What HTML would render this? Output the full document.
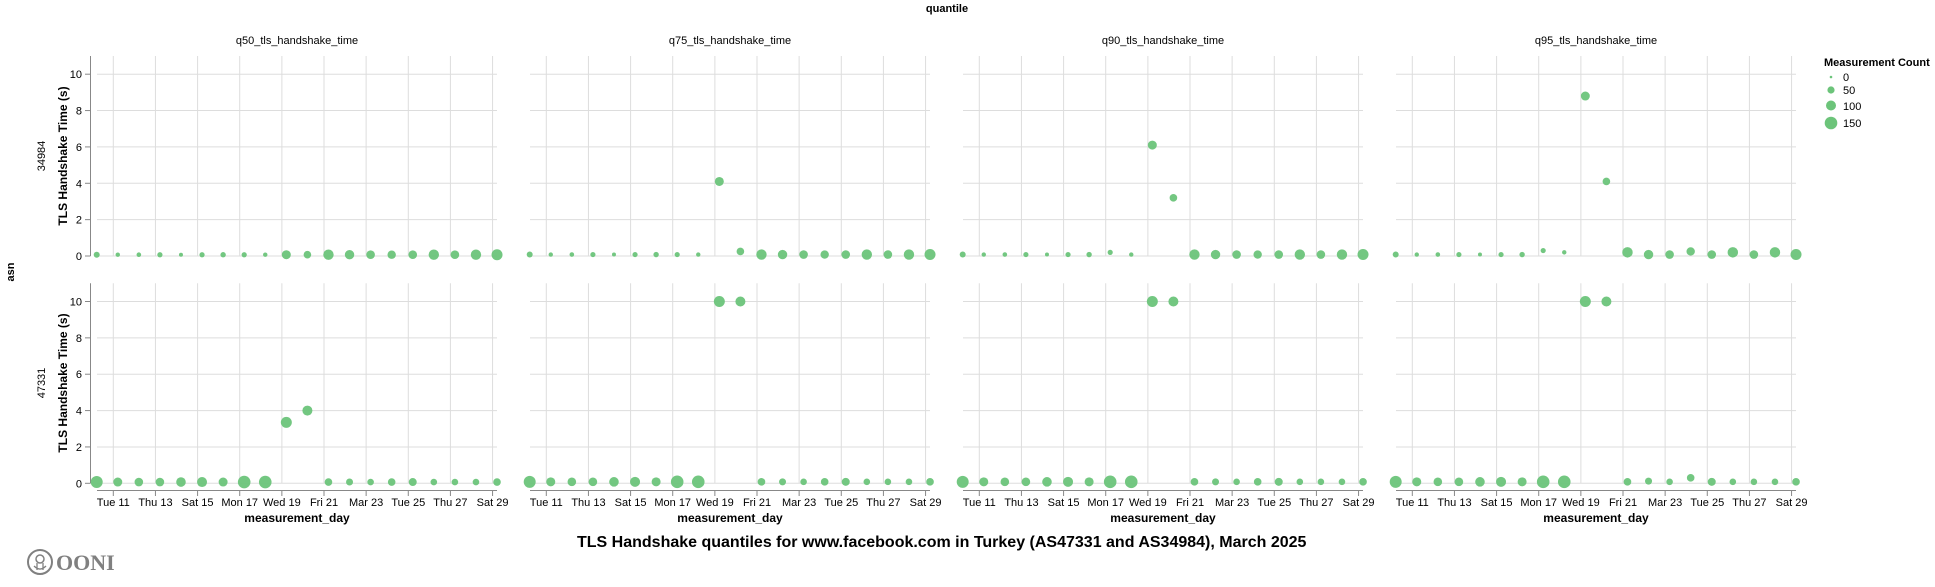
<!DOCTYPE html>
<html><head><meta charset="utf-8"><style>
html,body{margin:0;padding:0;background:#fff;}
svg{display:block;font-family:"Liberation Sans",Arial,sans-serif;}
</style></head><body>
<svg id="c" width="1935" height="587" xmlns="http://www.w3.org/2000/svg">
<text x="947" y="12" font-size="11" font-weight="bold" text-anchor="middle">quantile</text>
<text x="297" y="44" font-size="11" text-anchor="middle">q50_tls_handshake_time</text>
<text x="730" y="44" font-size="11" text-anchor="middle">q75_tls_handshake_time</text>
<text x="1163" y="44" font-size="11" text-anchor="middle">q90_tls_handshake_time</text>
<text x="1596" y="44" font-size="11" text-anchor="middle">q95_tls_handshake_time</text>
<text transform="translate(14,272) rotate(-90)" font-size="11" font-weight="bold" text-anchor="middle">asn</text>
<text transform="translate(45,156) rotate(-90)" font-size="11" text-anchor="middle">34984</text>
<text transform="translate(45,383) rotate(-90)" font-size="11" text-anchor="middle">47331</text>
<text transform="translate(67,156) rotate(-90)" font-size="12" font-weight="bold" text-anchor="middle">TLS Handshake Time (s)</text>
<text transform="translate(67,383) rotate(-90)" font-size="12" font-weight="bold" text-anchor="middle">TLS Handshake Time (s)</text>
<g id="g"></g>
<text x="1824" y="66" font-size="11" font-weight="bold">Measurement Count</text>
<circle cx="1831" cy="77" r="1.3" fill="#6cc47a"/><text x="1843" y="81" font-size="11">0</text>
<circle cx="1831" cy="90" r="3.6" fill="#6cc47a"/><text x="1843" y="94" font-size="11">50</text>
<circle cx="1831" cy="105.5" r="5" fill="#6cc47a"/><text x="1843" y="110" font-size="11">100</text>
<circle cx="1831" cy="123" r="6.3" fill="#6cc47a"/><text x="1843" y="127" font-size="11">150</text>
<text x="577" y="547" font-size="16" font-weight="bold">TLS Handshake quantiles for www.facebook.com in Turkey (AS47331 and AS34984), March 2025</text>
<circle cx="40" cy="562" r="12" fill="none" stroke="#808080" stroke-width="2"/>
<circle cx="40" cy="559" r="4" fill="none" stroke="#808080" stroke-width="1.5"/>
<path d="M34 566 q6 6 12 0 M37 563 v7 M43 563 v7" fill="none" stroke="#808080" stroke-width="1.3"/>
<text x="56" y="570" font-size="22" font-weight="bold" fill="#808080" font-family="Liberation Serif,serif">OONI</text>
</svg>
<script>
(function(){
var g=document.getElementById('g'),s='';
var labels=['Tue 11','Thu 13','Sat 15','Mon 17','Wed 19','Fri 21','Mar 23','Tue 25','Thu 27','Sat 29'];
var rTop=[3,2.2,2.3,2.6,2,2.6,2.7,2.6,2.2,4.5,3.8,5.2,4.7,4.3,4.2,4.3,5.2,4.3,5.2,5.5];
var rBot=[6,4.5,4.3,4.3,4.8,5,4.5,6.3,6.3,5.5,5,3.8,3.5,3.3,3.8,4,3.3,3.3,3.3,3.8];
function base(v){var a=[];for(var i=0;i<20;i++)a.push(v);return a;}
var topD=[],botD=[];
var t0=base(0.07);topD.push(t0);
var t1=base(0.08);t1[9]=4.1;t1[10]=0.25;topD.push(t1);
var t2=base(0.08);t2[7]=0.2;t2[9]=6.1;t2[10]=3.2;topD.push(t2);
var t3=base(0.08);t3[7]=0.3;t3[8]=0.2;t3[9]=8.8;t3[10]=4.1;t3[11]=0.2;t3[14]=0.25;t3[16]=0.2;t3[18]=0.2;topD.push(t3);
var b0=base(0.07);b0[9]=3.35;b0[10]=4.0;botD.push(b0);
for(var q=1;q<4;q++){var b=base(0.08);b[9]=10;b[10]=10;if(q==3){b[14]=0.3;b[12]=0.12;}botD.push(b);}
for(var row=0;row<2;row++){
 var oy=row*227.3, y0=256+oy, yt=56+oy;
 for(var p=0;p<4;p++){
  var ox=p*433;
  for(var k=0;k<10;k++){var x=113.3+42.14*k+ox;
   s+='<line x1="'+x+'" x2="'+x+'" y1="'+yt+'" y2="'+y0+'" stroke="#ddd"/>';}
  for(var v=0;v<=10;v+=2){var y=y0-v*18.18;
   s+='<line x1="'+(97+ox)+'" x2="'+(497+ox)+'" y1="'+y+'" y2="'+y+'" stroke="#ddd"/>';}
  if(p==0){
   s+='<line x1="90.5" x2="90.5" y1="'+yt+'" y2="'+y0+'" stroke="#888"/>';
   for(var v=0;v<=10;v+=2){var y=y0-v*18.18;
    s+='<line x1="85" x2="90.5" y1="'+y+'" y2="'+y+'" stroke="#888"/>';
    s+='<text x="82" y="'+(y+4)+'" font-size="11" text-anchor="end">'+v+'</text>';}
  }
  if(row==1){
   s+='<line x1="'+(97+ox)+'" x2="'+(497+ox)+'" y1="490.5" y2="490.5" stroke="#888"/>';
   for(var k=0;k<10;k++){var x=113.3+42.14*k+ox;
    s+='<line x1="'+x+'" x2="'+x+'" y1="490.5" y2="496" stroke="#888"/>';
    s+='<text x="'+x+'" y="506" font-size="11" text-anchor="middle">'+labels[k]+'</text>';}
   s+='<text x="'+(297+ox)+'" y="522" font-size="12" font-weight="bold" text-anchor="middle">measurement_day</text>';
  }
  var d=row==0?topD[p]:botD[p], r=row==0?rTop:rBot;
  for(var i=0;i<20;i++){
   s+='<circle cx="'+(96.7+ox+i*21.07)+'" cy="'+(y0-d[i]*18.18)+'" r="'+r[i]+'" fill="#6cc47a" fill-opacity="0.95"/>';}
 }
}
g.innerHTML=s;
})();
</script>
</body></html>
